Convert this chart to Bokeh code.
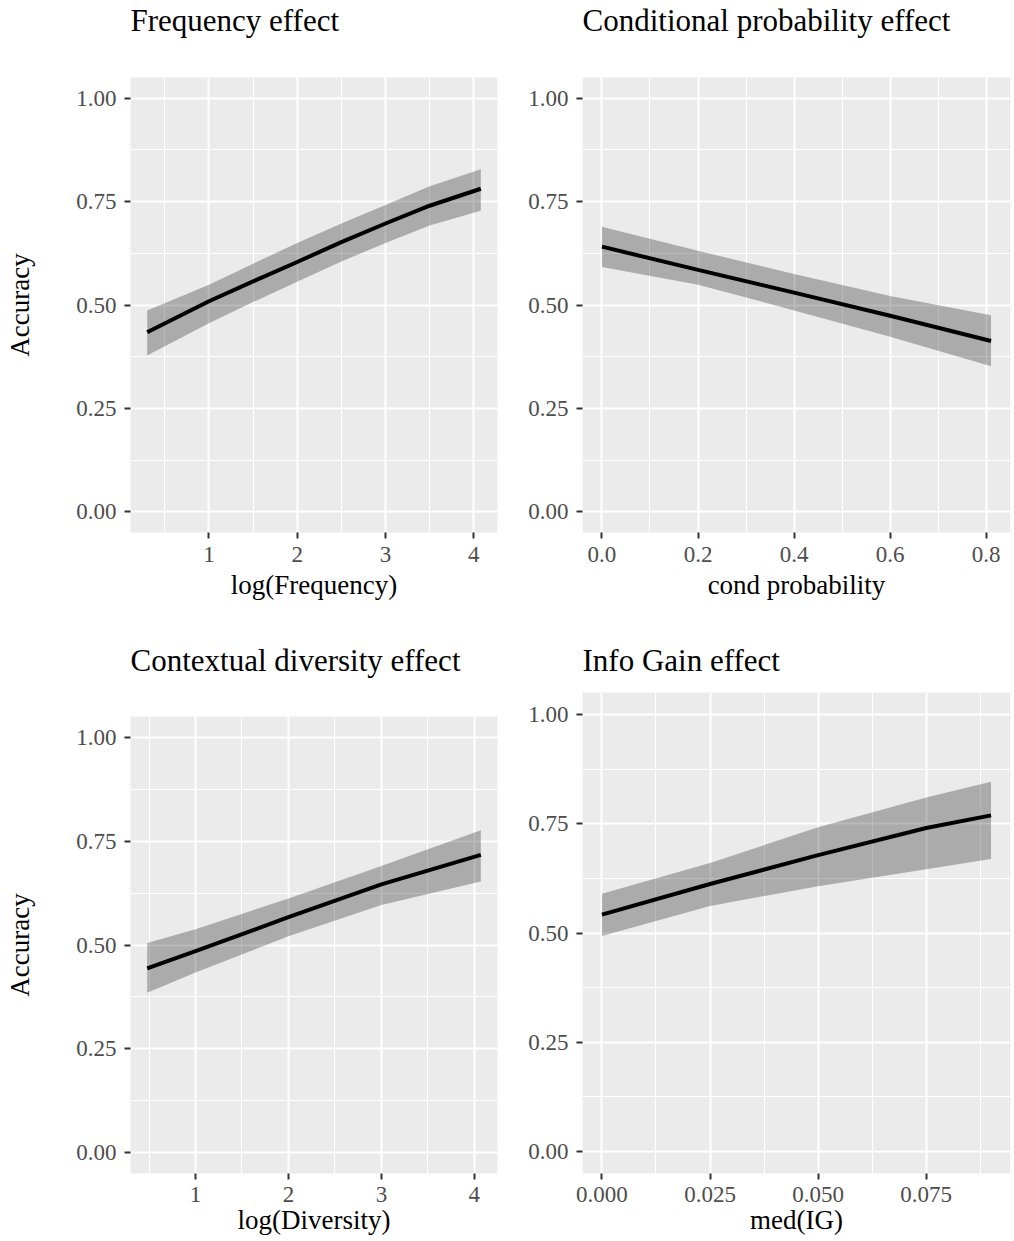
from bokeh.plotting import figure
from bokeh.layouts import row, column
from bokeh.models import FixedTicker, PrintfTickFormatter, Range1d, Title
from bokeh.embed import file_html
from bokeh.resources import INLINE

SERIF = "Liberation Serif"

# ---- data ----
freq_x = [0.30, 1.0, 1.5, 2.0, 2.5, 3.0, 3.5, 4.08]
freq_fit = [0.434, 0.509, 0.557, 0.604, 0.652, 0.697, 0.740, 0.781]
freq_lo = [0.378, 0.456, 0.507, 0.556, 0.605, 0.650, 0.692, 0.728]
freq_hi = [0.487, 0.549, 0.600, 0.650, 0.697, 0.742, 0.787, 0.828]

cond_x = [0.0, 0.2, 0.4, 0.6, 0.81]
cond_fit = [0.641, 0.585, 0.530, 0.474, 0.413]
cond_lo = [0.592, 0.549, 0.487, 0.423, 0.352]
cond_hi = [0.689, 0.631, 0.575, 0.522, 0.475]

div_x = [0.48, 1.0, 2.0, 3.0, 4.07]
div_fit = [0.444, 0.485, 0.567, 0.646, 0.717]
div_lo = [0.385, 0.434, 0.521, 0.596, 0.653]
div_hi = [0.505, 0.538, 0.612, 0.690, 0.776]

ig_x = [0.0, 0.025, 0.05, 0.075, 0.09]
ig_fit = [0.542, 0.612, 0.678, 0.740, 0.769]
ig_lo = [0.493, 0.562, 0.607, 0.646, 0.669]
ig_hi = [0.590, 0.660, 0.742, 0.810, 0.846]

y_major = [0.0, 0.25, 0.5, 0.75, 1.0]
y_minor = [0.125, 0.375, 0.625, 0.875]

freq_major = [1, 2, 3, 4]
freq_minor = [0.5, 1.5, 2.5, 3.5]
cond_major = [0.0, 0.2, 0.4, 0.6, 0.8]
cond_minor = [0.1, 0.3, 0.5, 0.7]
ig_major = [0.0, 0.025, 0.05, 0.075]
ig_minor = [0.0125, 0.0375, 0.0625, 0.0875]


def panel(title, xlabel, ylabel, xs, fit, lo, hi, xmajor, xminor, xfmt,
          width, height, left, right, top, bottom, title_gap,
          tick_standoff, label_standoff):
    span = max(xs) - min(xs)
    xr = Range1d(min(xs) - 0.05 * span, max(xs) + 0.05 * span)
    p = figure(width=width, height=height, output_backend="svg",
               toolbar_location=None, x_range=xr,
               y_range=Range1d(-0.05, 1.05),
               min_border_left=left, min_border_right=right,
               min_border_top=top, min_border_bottom=bottom)
    p.title_location = None
    p.background_fill_color = "#EBEBEB"
    p.border_fill_color = "white"
    p.outline_line_color = None

    # spacer between frame and title, then the title itself
    spacer = Title(text=" ", text_font_size="1px", standoff=title_gap,
                   text_color="white")
    p.add_layout(spacer, "above")
    t = Title(text=title, text_font=SERIF, text_font_size="31px",
              text_font_style="normal", text_color="black",
              align="left", offset=0, standoff=0)
    p.add_layout(t, "above")

    p.xaxis.ticker = FixedTicker(ticks=xmajor, minor_ticks=xminor)
    p.yaxis.ticker = FixedTicker(ticks=y_major, minor_ticks=y_minor)
    p.xaxis.formatter = PrintfTickFormatter(format=xfmt)
    p.yaxis.formatter = PrintfTickFormatter(format="%.2f")

    for ax in (p.xaxis, p.yaxis):
        ax.axis_line_color = None
        ax.major_tick_line_color = "#333333"
        ax.major_tick_line_width = 2
        ax.major_tick_out = 6
        ax.major_tick_in = 0
        ax.minor_tick_line_color = None
        ax.major_label_text_font = SERIF
        ax.major_label_text_font_size = "23px"
        ax.major_label_text_color = "#4D4D4D"
        ax.axis_label_text_font = SERIF
        ax.axis_label_text_font_size = "27px"
        ax.axis_label_text_font_style = "normal"
        ax.axis_label_text_color = "black"

    p.xaxis.major_label_standoff = tick_standoff
    p.yaxis.major_label_standoff = 8
    p.xaxis.axis_label = xlabel
    p.xaxis.axis_label_standoff = label_standoff
    if ylabel:
        p.yaxis.axis_label = ylabel
        p.yaxis.axis_label_standoff = 38

    for g in (p.xgrid, p.ygrid):
        g.grid_line_color = "white"
        g.grid_line_width = 2
        g.minor_grid_line_color = "white"
        g.minor_grid_line_width = 1

    p.varea(x=xs, y1=lo, y2=hi, fill_color="black", fill_alpha=0.27)
    p.line(xs, fit, line_color="black", line_width=4)
    return p


p1 = panel("Frequency effect", "log(Frequency)", "Accuracy",
           freq_x, freq_fit, freq_lo, freq_hi, freq_major, freq_minor, "%d",
           507, 620, 130, 10, 77, 88, 37, 8, 5)
p2 = panel("Conditional probability effect", "cond probability", None,
           cond_x, cond_fit, cond_lo, cond_hi, cond_major, cond_minor, "%.1f",
           507, 620, 75, 4, 77, 88, 37, 8, 5)
p3 = panel("Contextual diversity effect", "log(Diversity)", "Accuracy",
           div_x, div_fit, div_lo, div_hi, freq_major, freq_minor, "%d",
           507, 621, 130, 10, 96, 68, 36, 7, 0)
p4 = panel("Info Gain effect", "med(IG)", None,
           ig_x, ig_fit, ig_lo, ig_hi, ig_major, ig_minor, "%.3f",
           507, 621, 75, 4, 72, 68, 12, 7, 0)

layout = row(column(p1, p3), column(p2, p4))
open("out.html", "w").write(file_html(layout, INLINE))
